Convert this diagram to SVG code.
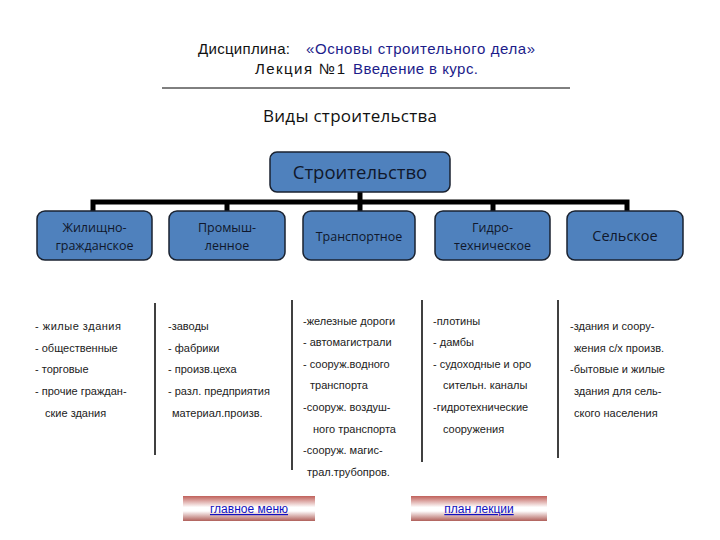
<svg xmlns="http://www.w3.org/2000/svg" width="720" height="540" viewBox="0 0 720 540">
<style>
.hd{font-family:"Liberation Sans",Arial,sans-serif;font-size:15px;fill:#111}
.bl{fill:#1c1c8a}
.sub{font-family:"Open Sans","Liberation Sans",sans-serif;font-size:17px;fill:#111}
.box{fill:#4f81bd;stroke:#1a2230;stroke-width:1.5}
.bt{font-family:"Open Sans","Liberation Sans",sans-serif;font-size:12.5px;fill:#10182c;text-anchor:middle}
.li{font-family:"Liberation Sans",Arial,sans-serif;font-size:11px;fill:#222}
.sep{stroke:#000;stroke-width:1.5}
.con{stroke:#000;stroke-width:5;fill:none}
.lnk{font-family:"Liberation Sans",Arial,sans-serif;font-size:12px;fill:#1010c0;text-anchor:middle;text-decoration:underline}
</style>
<defs>
<linearGradient id="btn" x1="0" y1="0" x2="0" y2="1">
<stop offset="0" stop-color="#c0605a"/>
<stop offset="0.45" stop-color="#ffffff"/>
<stop offset="0.6" stop-color="#ffffff"/>
<stop offset="1" stop-color="#b0605a"/>
</linearGradient>
</defs>
<g id="title">
<text class="hd" x="198" y="54" textLength="92">Дисциплина:</text>
<text class="hd bl" x="306" y="54" textLength="229">«Основы строительного дела»</text>
<text class="hd" x="255" y="74" textLength="90">Лекция №1</text>
<text class="hd bl" x="353" y="74" textLength="125">Введение в курс.</text>
<line x1="162" y1="88" x2="570" y2="88" stroke="#000" stroke-width="1"/>
<text class="sub" x="263" y="122" textLength="174">Виды  строительства</text>
</g>
<g id="connectors">
<line class="con" x1="360" y1="192" x2="360" y2="202"/>
<polyline class="con" points="93,211 93,202 627,202 627,211"/>
<line class="con" x1="227" y1="202" x2="227" y2="211"/>
<line class="con" x1="360" y1="202" x2="360" y2="211"/>
<line class="con" x1="493" y1="202" x2="493" y2="211"/>
</g>
<g id="root">
<rect class="box" x="270" y="152" width="180" height="40" rx="7"/>
<text class="bt" x="360" y="179" style="font-size:18.5px">Строительство</text>
</g>
<g id="n1">
<rect class="box" x="37" y="211" width="115" height="49" rx="8"/>
<text class="bt" x="94.5" y="232">Жилищно-</text>
<text class="bt" x="94.5" y="250">гражданское</text>
</g>
<g id="n2">
<rect class="box" x="169" y="211" width="116" height="49" rx="8"/>
<text class="bt" x="227" y="232">Промыш-</text>
<text class="bt" x="227" y="250">ленное</text>
</g>
<g id="n3">
<rect class="box" x="303" y="211" width="112" height="49" rx="8"/>
<text class="bt" x="359" y="241">Транспортное</text>
</g>
<g id="n4">
<rect class="box" x="435" y="211" width="115" height="49" rx="8"/>
<text class="bt" x="492.5" y="232">Гидро-</text>
<text class="bt" x="492.5" y="250">техническое</text>
</g>
<g id="n5">
<rect class="box" x="567" y="211" width="116" height="49" rx="8"/>
<text class="bt" x="625" y="241" style="font-size:14.5px">Сельское</text>
</g>
<g id="separators">
<line class="sep" x1="155" y1="303" x2="155" y2="455"/>
<line class="sep" x1="292" y1="300" x2="292" y2="470"/>
<line class="sep" x1="422" y1="300" x2="422" y2="462"/>
<line class="sep" x1="558" y1="300" x2="558" y2="458"/>
</g>
<g id="list1" class="li">
<text x="35" y="330" textLength="86">- жилые  здания</text>
<text x="35" y="352">- общественные</text>
<text x="35" y="373">- торговые</text>
<text x="35" y="395">- прочие граждан-</text>
<text x="45" y="417">ские здания</text>
</g>
<g id="list2" class="li">
<text x="168" y="330">-заводы</text>
<text x="168" y="352">- фабрики</text>
<text x="168" y="373">- произв.цеха</text>
<text x="168" y="395">- разл. предприятия</text>
<text x="172" y="417">материал.произв.</text>
</g>
<g id="list3" class="li">
<text x="303" y="325">-железные дороги</text>
<text x="303" y="346">- автомагистрали</text>
<text x="303" y="368">- сооруж.водного</text>
<text x="310" y="389">транспорта</text>
<text x="303" y="411">-сооруж. воздуш-</text>
<text x="313" y="433">ного транспорта</text>
<text x="303" y="454">-сооруж. магис-</text>
<text x="307" y="476">трал.трубопров.</text>
</g>
<g id="list4" class="li">
<text x="433" y="325">-плотины</text>
<text x="433" y="346">- дамбы</text>
<text x="433" y="368">- судоходные и оро</text>
<text x="443" y="389">сительн. каналы</text>
<text x="433" y="411">-гидротехнические</text>
<text x="443" y="433">сооружения</text>
</g>
<g id="list5" class="li">
<text x="570" y="330">-здания и соору-</text>
<text x="574" y="352">жения с/х произв.</text>
<text x="570" y="373">-бытовые и жилые</text>
<text x="574" y="395">здания для сель-</text>
<text x="574" y="417">ского населения</text>
</g>
<g id="btn1">
<rect x="183" y="496" width="132" height="25" fill="url(#btn)"/>
<text class="lnk" x="249" y="513">главное меню</text>
</g>
<g id="btn2">
<rect x="411" y="496" width="136" height="25" fill="url(#btn)"/>
<text class="lnk" x="479" y="513">план лекции</text>
</g>
</svg>
